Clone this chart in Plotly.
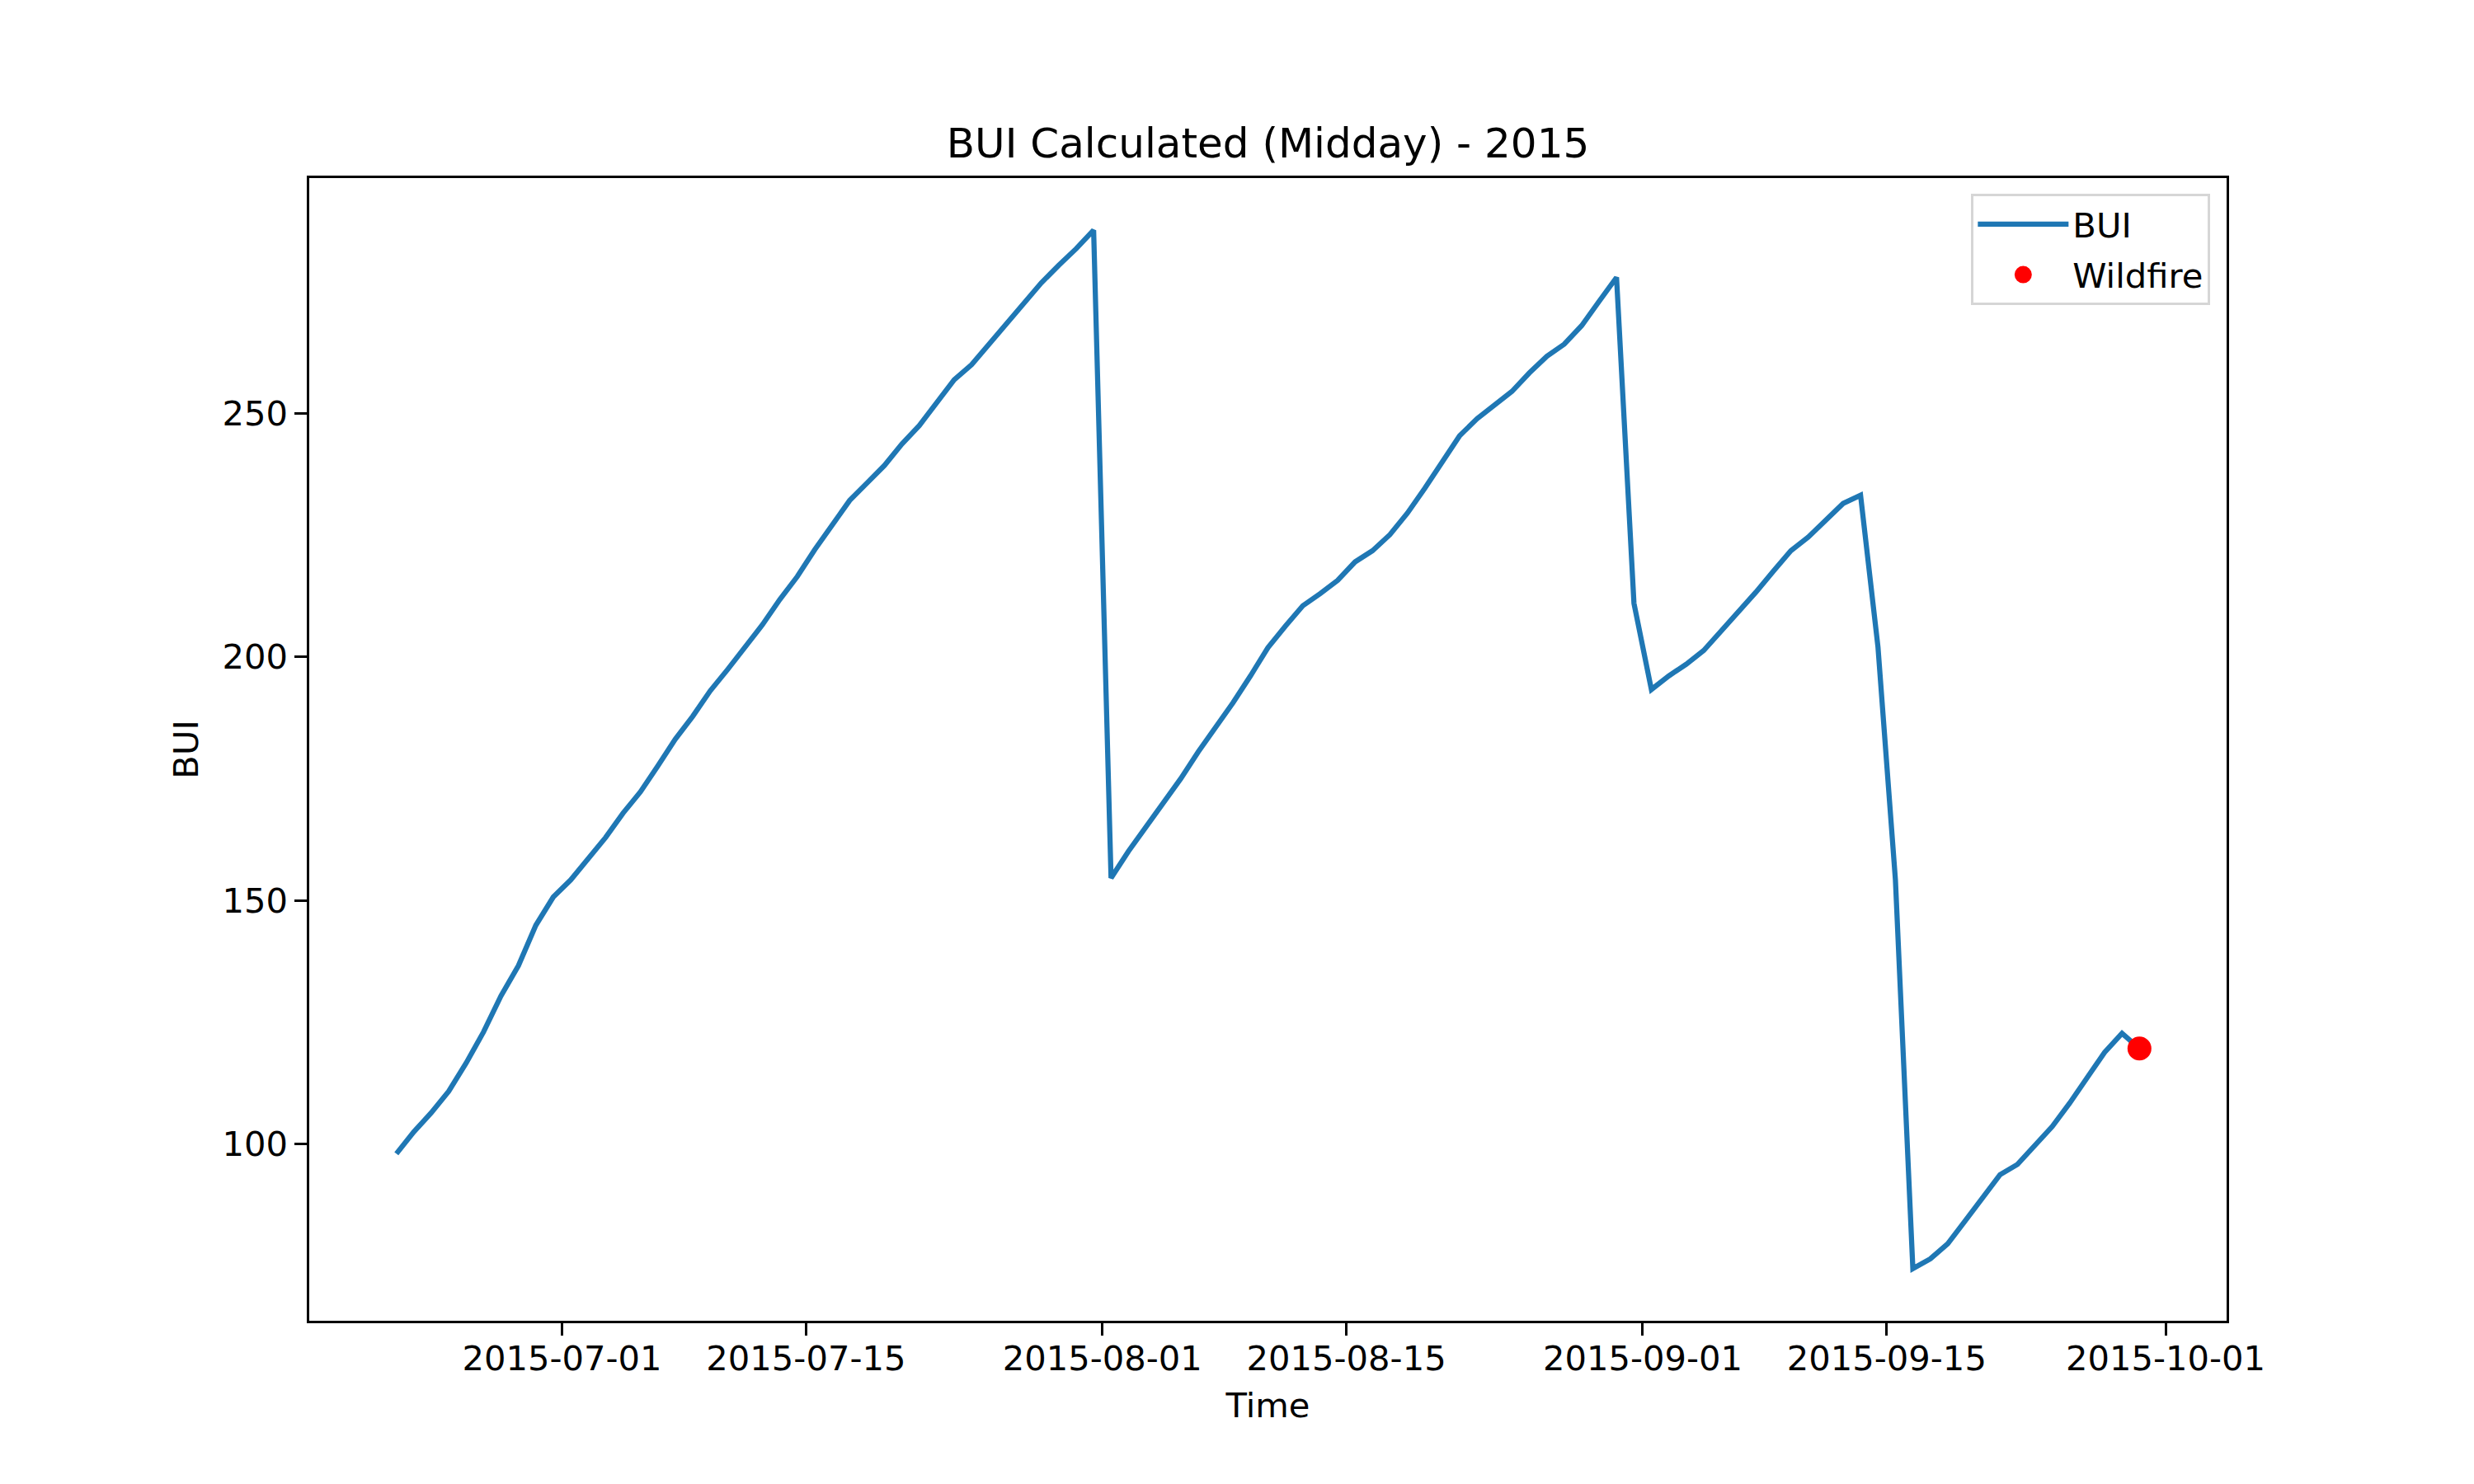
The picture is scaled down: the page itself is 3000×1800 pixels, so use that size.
"""BUI (midday) for 2015 with the wildfire day marked. Writes out.html."""

import pandas as pd
import plotly.graph_objects as go

# daily midday BUI, starting 2015-06-21 12:00
start = "2015-06-21 12:00"
bui = [
    98.0, 102.5, 106.4, 110.8, 116.6, 123.0, 130.4, 136.6, 144.9, 150.7,
    154.2, 158.5, 162.9, 167.9, 172.3, 177.6, 183.1, 187.8, 193.0, 197.4,
    201.9, 206.6, 211.8, 216.5, 222.0, 227.0, 232.1, 235.7, 239.3, 243.7,
    247.5, 252.2, 256.9, 260.0, 264.2, 268.1, 272.4, 276.8, 280.4, 283.8,
    287.6, 154.6, 160.1, 165.0, 169.8, 175.0, 180.5, 185.5, 190.6, 196.1,
    201.9, 206.3, 210.5, 213.0, 215.7, 219.5, 221.8, 225.1, 229.5, 234.6,
    240.1, 245.4, 248.9, 251.7, 254.5, 258.3, 261.7, 264.2, 268.0, 273.0,
    277.9, 211.0, 193.3, 196.1, 198.5, 201.3, 205.2, 209.3, 213.3, 217.6,
    221.8, 224.6, 228.1, 231.5, 233.2, 202.0, 154.2, 74.4, 76.4, 79.5,
    84.2, 88.9, 93.7, 95.8, 99.6, 103.6, 108.4, 113.6, 118.8, 122.7,
    119.6,
]
fire_time = ["2015-09-29 12:00"]
fire_bui = [119.6]

tick_dates = ["2015-07-01", "2015-07-15", "2015-08-01", "2015-08-15",
              "2015-09-01", "2015-09-15", "2015-10-01"]

times = pd.date_range(start, periods=len(bui), freq="D")

PT = 300 / 72  # matplotlib points -> px at 300 dpi
FONT = "DejaVu Sans"
PAGE_OFFSET = 8  # browser body margin

fig = go.Figure()
fig.add_trace(go.Scatter(
    x=times, y=bui, name="BUI", mode="lines", legendgroup="bui",
    line=dict(color="#1f77b4", width=1.5 * PT),
))
# legend caps marker size at 16, so a red outline makes the legend dot bigger
fig.add_trace(go.Scatter(
    x=fire_time, y=fire_bui, name="Wildfire", mode="markers",
    legendgroup="fire",
    marker=dict(color="red", size=24, line=dict(width=5, color="red")),
))

axis_style = dict(
    showline=True, mirror=True, linecolor="black", linewidth=0.8 * PT,
    ticks="outside", ticklen=3.5 * PT, tickwidth=0.8 * PT, tickcolor="black",
    showgrid=False, zeroline=False,
    tickfont=dict(family=FONT, size=10 * PT, color="black"),
)

fig.update_layout(
    width=3000, height=1800,
    margin=dict(l=375 - PAGE_OFFSET, r=300 + PAGE_OFFSET,
                t=216 - PAGE_OFFSET, b=198 + PAGE_OFFSET),
    paper_bgcolor="white", plot_bgcolor="white",
    font=dict(family=FONT, size=10 * PT, color="black"),
    title=dict(
        text="BUI Calculated (Midday) - 2015",
        font=dict(family=FONT, size=12 * PT, color="black"),
        x=0.5, xref="paper", xanchor="center",
        y=1, yref="paper", yanchor="bottom", pad=dict(b=6 * PT),
    ),
    xaxis=dict(
        axis_style, type="date",
        range=["2015-06-16 12:00", "2015-10-04 12:00"],
        tickvals=tick_dates, ticktext=tick_dates,
        ticklabelstandoff=-8,
        title=dict(text="Time", standoff=20,
                   font=dict(family=FONT, size=10 * PT, color="black")),
    ),
    yaxis=dict(
        axis_style, range=[63.7, 298.3],
        tickvals=[100, 150, 200, 250],
        title=dict(text="BUI", standoff=4 * PT,
                   font=dict(family=FONT, size=10 * PT, color="black")),
    ),
    showlegend=True,
    legend=dict(
        x=0.9914, y=0.9863, xanchor="right", yanchor="top",
        bgcolor="rgba(255,255,255,0.8)", bordercolor="#d6d6d6",
        borderwidth=0.8 * PT, itemsizing="trace", itemwidth=110,
        tracegroupgap=4,
        font=dict(family=FONT, size=10 * PT, color="black"),
    ),
)

fig.write_html("out.html")
